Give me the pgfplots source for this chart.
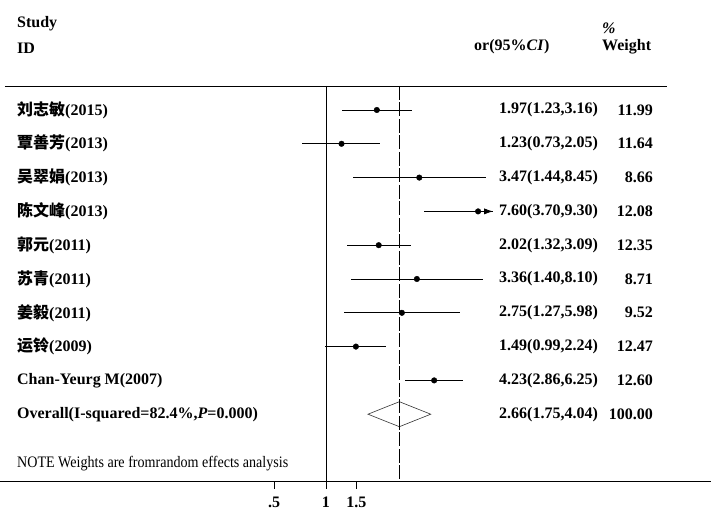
\documentclass[border=0pt]{standalone}
\usepackage{fontspec}
\setmainfont{Liberation Serif}
\newfontfamily\cjk{Noto Sans CJK SC}
\usepackage{pgfplots}
\pgfplotsset{compat=1.18}
\usepackage{pgfplotstable}
\usetikzlibrary{arrows.meta}

% row (negative, top down), odds ratio, 95% CI
\pgfplotstableread{
k   or    lo    hi
-1  1.97  1.23  3.16
-2  1.23  0.73  2.05
-3  3.47  1.44  8.45
-4  7.60  3.70  9.30
-5  2.02  1.32  3.09
-6  3.36  1.40  8.10
-7  2.75  1.27  5.98
-8  1.49  0.99  2.24
-9  4.23  2.86  6.25
}\studies

\begin{document}
\fontsize{16}{19}\selectfont\bfseries
\begin{tikzpicture}[lbl/.style={anchor=west, inner xsep=0pt}, wt/.style={anchor=east, inner xsep=0pt}]
\begin{axis}[
  scale only axis, width=711pt, height=481pt,
  xmode=log, xmin=0.01295, xmax=169.6,
  ymin=-11.976, ymax=2.254,
  axis y line=none, axis x line=bottom,
  x axis line style={-, line width=0.8pt},
  xtick={0.5,1,1.5}, xticklabels={.5,1,1.5}, minor xtick={}, ytick=\empty,
  tick align=outside, major tick length=8pt,
  every tick/.style={line width=0.8pt, black},
  xticklabel style={yshift=-2pt},
  clip=false,
]
% confidence intervals and point estimates
\addplot[only marks, mark=*, mark size=2.8pt, black,
  error bars/.cd, x dir=both, x explicit, error mark=none,
  error bar style={line width=0.8pt, black}]
  table[x=or, y=k,
        x error plus expr=\thisrow{hi}-\thisrow{or},
        x error minus expr=\thisrow{or}-\thisrow{lo}] {\studies};
% truncated upper limit for row 4
\addplot[-{Latex[length=9pt,width=6pt]}, line width=0.8pt, black]
  coordinates {(8.2,-4) (9.30,-4)};
% pooled estimate
\addplot[draw=black!80, line width=0.6pt, fill=white]
  coordinates {(1.75,-10) (2.66,-9.63) (4.04,-10) (2.66,-10.37)} -- cycle;

% reference lines
\draw[line width=0.8pt] (axis cs:1,-0.29) -- (axis cs:1,-11.976);
\draw[line width=0.8pt, dash pattern=on 14pt off 2.5pt] (axis cs:2.66,-0.29) -- (axis cs:2.66,-11.976);
\draw[line width=0.8pt] (axis description cs:0.007,0.8212) -- (axis description cs:0.938,0.8212);

% headers
\node[lbl] at (axis description cs:0.0239,0.9500) {Study};
\node[lbl] at (axis description cs:0.0239,0.9002) {ID};
\node[lbl] at (axis description cs:0.6667,0.9023) {or(95\%\textit{CI})};
\node[lbl] at (axis description cs:0.8467,0.9418) {\textit{\%}};
\node[lbl] at (axis description cs:0.8467,0.9023) {Weight};

% study labels
\node[lbl] at (axis description cs:0.0239,0.7713) {{\cjk 刘志敏}(2015)};
\node[lbl] at (axis description cs:0.0239,0.7010) {{\cjk 覃善芳}(2013)};
\node[lbl] at (axis description cs:0.0239,0.6308) {{\cjk 吴翠娟}(2013)};
\node[lbl] at (axis description cs:0.0239,0.5605) {{\cjk 陈文峰}(2013)};
\node[lbl] at (axis description cs:0.0239,0.4902) {{\cjk 郭元}(2011)};
\node[lbl] at (axis description cs:0.0239,0.4200) {{\cjk 苏青}(2011)};
\node[lbl] at (axis description cs:0.0239,0.3497) {{\cjk 姜毅}(2011)};
\node[lbl] at (axis description cs:0.0239,0.2794) {{\cjk 运铃}(2009)};
\node[lbl] at (axis description cs:0.0239,0.2092) {Chan-Yeurg M(2007)};
\node[lbl] at (axis description cs:0.0239,0.1389) {Overall(I-squared=82.4\%,\textit{P}=0.000)};
\node[lbl] at (axis description cs:0.0239,0.0353) {\mdseries\scalebox{0.88}[1]{NOTE Weights are fromrandom effects analysis}};

% estimates
\node[lbl] at (axis description cs:0.7018,0.7713) {1.97(1.23,3.16)};
\node[lbl] at (axis description cs:0.7018,0.7010) {1.23(0.73,2.05)};
\node[lbl] at (axis description cs:0.7018,0.6308) {3.47(1.44,8.45)};
\node[lbl] at (axis description cs:0.7018,0.5605) {7.60(3.70,9.30)};
\node[lbl] at (axis description cs:0.7018,0.4902) {2.02(1.32,3.09)};
\node[lbl] at (axis description cs:0.7018,0.4200) {3.36(1.40,8.10)};
\node[lbl] at (axis description cs:0.7018,0.3497) {2.75(1.27,5.98)};
\node[lbl] at (axis description cs:0.7018,0.2794) {1.49(0.99,2.24)};
\node[lbl] at (axis description cs:0.7018,0.2092) {4.23(2.86,6.25)};
\node[lbl] at (axis description cs:0.7018,0.1389) {2.66(1.75,4.04)};

% weights
\node[wt] at (axis description cs:0.9184,0.7713) {11.99};
\node[wt] at (axis description cs:0.9184,0.7010) {11.64};
\node[wt] at (axis description cs:0.9184,0.6308) {8.66};
\node[wt] at (axis description cs:0.9184,0.5605) {12.08};
\node[wt] at (axis description cs:0.9184,0.4902) {12.35};
\node[wt] at (axis description cs:0.9184,0.4200) {8.71};
\node[wt] at (axis description cs:0.9184,0.3497) {9.52};
\node[wt] at (axis description cs:0.9184,0.2794) {12.47};
\node[wt] at (axis description cs:0.9184,0.2092) {12.60};
\node[wt] at (axis description cs:0.9184,0.1389) {100.00};
\end{axis}
\pgfresetboundingbox
\path (current axis.north west) rectangle ([yshift=-32pt]current axis.south east);
\end{tikzpicture}
\end{document}
